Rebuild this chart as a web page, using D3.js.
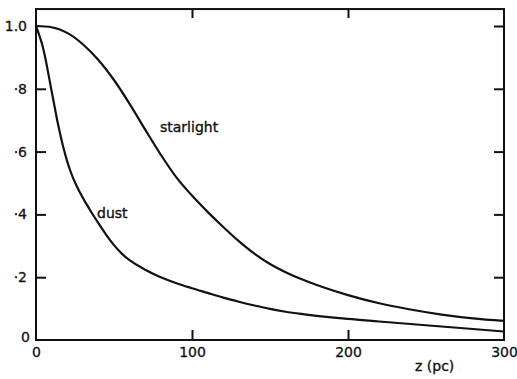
<!DOCTYPE html>
<html>
<head>
<meta charset="utf-8">
<script src="https://cdn.jsdelivr.net/npm/d3@7"></script>
<style>
  body { margin: 0; background: #fff; }
  text { font-family: "DejaVu Sans", sans-serif; fill: #111; }
</style>
</head>
<body>
<div class="chart"></div>
<script>
// values: z in pc, relative intensity
var starlightZ = [0, 10, 20, 30, 40, 50, 60, 70, 80, 90, 100, 110, 120, 130, 140, 150, 160, 170, 180, 200, 220, 240, 260, 280, 300];
var starlightI = [1.0, 0.996, 0.978, 0.942, 0.892, 0.828, 0.752, 0.670, 0.590, 0.518, 0.460, 0.408, 0.360, 0.315, 0.275, 0.242, 0.216, 0.194, 0.175, 0.143, 0.117, 0.097, 0.081, 0.069, 0.061];

var dustZ = [0, 2, 4, 6, 8, 10, 12, 14, 16, 18, 20, 22, 24, 26, 28, 32, 36, 40, 45, 50, 55, 60, 70, 80, 90, 100, 110, 120, 130, 140, 150, 160, 170, 180, 200, 220, 240, 260, 280, 300];
var dustI = [1.0, 0.972, 0.940, 0.897, 0.846, 0.793, 0.741, 0.690, 0.645, 0.604, 0.569, 0.539, 0.513, 0.491, 0.471, 0.436, 0.403, 0.372, 0.335, 0.302, 0.275, 0.254, 0.224, 0.200, 0.181, 0.165, 0.150, 0.135, 0.122, 0.110, 0.099, 0.090, 0.083, 0.077, 0.067, 0.059, 0.051, 0.043, 0.035, 0.027];

var xTicks = [0, 100, 200, 300];
var xTickLabels = ["0", "100", "200", "300"];
var yTicks = [0, 0.2, 0.4, 0.6, 0.8, 1.0];
var yTickLabels = ["0", "\u00b72", "\u00b74", "\u00b76", "\u00b78", "1.0"];

var svgWidth = 517, svgHeight = 379;

var svg = d3.select(".chart")
  .append("svg")
    .attr("width", svgWidth)
    .attr("height", svgHeight);

var x = d3.scaleLinear().domain([0, 300]).range([36, 504]);
var y = d3.scaleLinear().domain([0, 1]).range([340, 26]);
var yTop = 1.054;   // frame goes a little above 1.0

// frame
svg.append("rect")
  .attr("x", x(0))
  .attr("y", y(yTop))
  .attr("width", x(300) - x(0))
  .attr("height", y(0) - y(yTop))
  .attr("fill", "none")
  .attr("stroke", "#111")
  .attr("stroke-width", 2);

// inward ticks, all four sides
function tickOnly(axis) {
  return function(g) {
    g.call(axis);
    g.select(".domain").remove();
    g.selectAll("line").attr("stroke", "#111").attr("stroke-width", 2);
    g.selectAll("text").remove();
  };
}
svg.append("g").attr("transform", "translate(0," + y(0) + ")")
  .call(tickOnly(d3.axisBottom(x).tickValues([100, 200]).tickSize(-10)));
svg.append("g").attr("transform", "translate(0," + y(yTop) + ")")
  .call(tickOnly(d3.axisTop(x).tickValues([100, 200]).tickSize(-9)));
svg.append("g").attr("transform", "translate(" + x(0) + ",0)")
  .call(tickOnly(d3.axisLeft(y).tickValues([0.2, 0.4, 0.6, 0.8]).tickSize(-10)));
svg.append("g").attr("transform", "translate(" + x(300) + ",0)")
  .call(tickOnly(d3.axisRight(y).tickValues([0.2, 0.4, 0.6, 0.8, 1.0]).tickSize(-10)));

// tick labels
var xLab = svg.append("g").attr("transform", "translate(0," + y(0) + ")")
  .call(d3.axisBottom(x).tickValues(xTicks).tickSize(0).tickPadding(7)
    .tickFormat(function(d, i) { return xTickLabels[i]; }));
xLab.select(".domain").remove();
xLab.selectAll("text")
  .style("font-size", "14px").style("font-family", "DejaVu Sans")
  .attr("fill", "#111").attr("stroke", "#111").attr("stroke-width", 0.3);

var yLab = svg.append("g").attr("transform", "translate(" + x(0) + ",0)")
  .call(d3.axisLeft(y).tickValues(yTicks).tickSize(0).tickPadding(9)
    .tickFormat(function(d, i) { return yTickLabels[i]; }));
yLab.select(".domain").remove();
yLab.selectAll("text")
  .style("font-size", "14px").style("font-family", "DejaVu Sans")
  .attr("fill", "#111").attr("stroke", "#111").attr("stroke-width", 0.3);
yLab.selectAll("text").filter(function(d) { return d === 0; })
  .attr("x", -6).attr("dy", "0.1em");

// curves
var line = d3.line()
  .x(function(d) { return x(d[0]); })
  .y(function(d) { return y(d[1]); })
  .curve(d3.curveMonotoneX);

var series = [
  { name: "starlight", pts: d3.zip(starlightZ, starlightI) },
  { name: "dust", pts: d3.zip(dustZ, dustI) }
];

svg.selectAll(".curve")
  .data(series)
  .enter()
  .append("path")
    .classed("curve", true)
    .attr("d", function(d) { return line(d.pts); })
    .attr("fill", "none")
    .attr("stroke", "#111")
    .attr("stroke-width", 2.2);

// curve labels
svg.append("text")
  .attr("x", 160).attr("y", 132)
  .style("font-size", "14px")
  .attr("stroke", "#111").attr("stroke-width", 0.35)
  .text("starlight");

svg.append("text")
  .attr("x", 97).attr("y", 218)
  .style("font-size", "14px")
  .attr("stroke", "#111").attr("stroke-width", 0.35)
  .text("dust");

// axis title
svg.append("text")
  .attr("x", 415).attr("y", 371)
  .style("font-size", "14px")
  .attr("stroke", "#111").attr("stroke-width", 0.35)
  .text("z (pc)");
</script>
</body>
</html>
